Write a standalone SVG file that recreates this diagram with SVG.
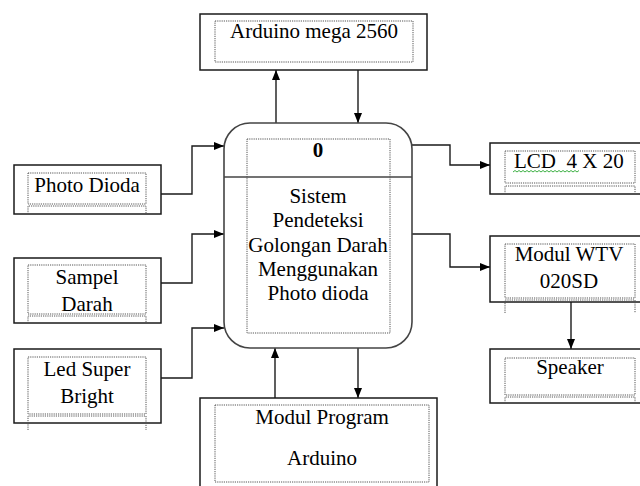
<svg xmlns="http://www.w3.org/2000/svg" width="640" height="486" viewBox="0 0 640 486">
<defs>
<style>
.box{fill:#fff;stroke:#1a1a1a;stroke-width:1.5}
.dot{fill:none;stroke:#555;stroke-width:1;stroke-dasharray:1.2 1}
.proc{fill:#fff;stroke:#444;stroke-width:1.6}
.ln{fill:none;stroke:#1a1a1a;stroke-width:1.4}
.t{font-family:"Liberation Serif","Times New Roman",serif;font-size:21px;fill:#000;text-anchor:middle}
.ts{font-family:"Liberation Serif","Times New Roman",serif;font-size:21px;fill:#000;text-anchor:start;white-space:pre}
</style>
<marker id="ah" markerWidth="10" markerHeight="8" refX="10" refY="4" orient="auto" markerUnits="userSpaceOnUse">
<path d="M0,0 L10,4 L0,8 Z" fill="#000"/>
</marker>
</defs>
<rect width="640" height="486" fill="#fff"/>

<g id="connectors">
<path class="ln" d="M276,123 V70" marker-end="url(#ah)"/>
<path class="ln" d="M358,70 V123" marker-end="url(#ah)"/>
<path class="ln" d="M161,194 H192 V146 H224" marker-end="url(#ah)"/>
<path class="ln" d="M161,283 H192 V234 H224" marker-end="url(#ah)"/>
<path class="ln" d="M161,378 H192 V328 H224" marker-end="url(#ah)"/>
<path class="ln" d="M412,145 H450 V165 H490" marker-end="url(#ah)"/>
<path class="ln" d="M412,234 H450 V267 H490" marker-end="url(#ah)"/>
<path class="ln" d="M571,302 V349" marker-end="url(#ah)"/>
<path class="ln" d="M275,398 V348" marker-end="url(#ah)"/>
<path class="ln" d="M358,348 V398" marker-end="url(#ah)"/>
</g>

<g id="arduino-mega">
<rect class="box" x="200" y="14" width="227" height="56"/>
<rect class="dot" x="215" y="21" width="198" height="41"/>
<text class="t" x="314" y="38">Arduino mega 2560</text>
</g>

<g id="process">
<rect class="proc" x="224" y="123" width="188" height="225" rx="26" ry="26"/>
<line x1="224" y1="177" x2="412" y2="177" stroke="#444" stroke-width="1.5"/>
<rect class="dot" x="247" y="139" width="143" height="194"/>
<text class="t" x="318" y="157" font-weight="bold">0</text>
<text class="t" x="318" y="203">Sistem</text>
<text class="t" x="318" y="227">Pendeteksi</text>
<text class="t" x="318" y="252">Golongan Darah</text>
<text class="t" x="318" y="276">Menggunakan</text>
<text class="t" x="318" y="300">Photo dioda</text>
</g>

<g id="photo-dioda">
<rect class="box" x="14" y="165" width="147" height="49"/>
<rect class="dot" x="28" y="173" width="118" height="31"/>
<path class="dot" d="M28,214 V206 H146 V214"/>
<text class="t" x="87" y="192">Photo Dioda</text>
</g>

<g id="sampel-darah">
<rect class="box" x="14" y="258" width="147" height="65"/>
<rect class="dot" x="28" y="265" width="118" height="49"/>
<path class="dot" d="M28,323 V316 H146 V323"/>
<text class="t" x="87" y="284">Sampel</text>
<text class="t" x="87" y="311">Darah</text>
</g>

<g id="led-super-bright">
<rect class="box" x="14" y="349" width="147" height="74"/>
<rect class="dot" x="28" y="357" width="118" height="57"/>
<path class="dot" d="M28,430 V416 H146 V430"/>
<text class="t" x="87" y="376">Led Super</text>
<text class="t" x="87" y="403">Bright</text>
</g>

<g id="modul-program">
<rect class="box" x="200" y="398" width="237" height="95"/>
<rect class="dot" x="215" y="405" width="214" height="77"/>
<text class="t" x="322" y="424">Modul Program</text>
<text class="t" x="322" y="465">Arduino</text>
</g>

<g id="lcd">
<rect class="box" x="490" y="143" width="160" height="51"/>
<rect class="dot" x="505" y="151" width="130" height="32"/>
<path class="dot" d="M505,194 V186 H635 V194"/>
<text class="ts" x="514" y="168" xml:space="preserve">LCD  4 X 20</text>
<path d="M513,172 l2,-1.5 l2,1.5 l2,-1.5 l2,1.5 l2,-1.5 l2,1.5 l2,-1.5 l2,1.5 l2,-1.5 l2,1.5 l2,-1.5 l2,1.5 l2,-1.5 l2,1.5 l2,-1.5 l2,1.5 l2,-1.5 l2,1.5 l2,-1.5 l2,1.5 l2,-1.5 l2,1.5 l2,-1.5 l2,1.5 l2,-1.5 l2,1.5 l2,-1.5 l2,1.5 l2,-1.5 l2,1.5 l2,-1.5 l2,1.5 l2,-1.5" fill="none" stroke="#3cb043" stroke-width="1"/>
</g>

<g id="modul-wtv">
<rect class="box" x="490" y="236" width="160" height="66"/>
<rect class="dot" x="505" y="244" width="130" height="54"/>
<path class="dot" d="M505,313 V300 H635 V313"/>
<text class="t" x="569" y="261">Modul WTV</text>
<text class="t" x="569" y="288">020SD</text>
</g>

<g id="speaker">
<rect class="box" x="490" y="349" width="160" height="54"/>
<rect class="dot" x="505" y="358" width="130" height="37"/>
<path class="dot" d="M505,403 V397 H635 V403"/>
<text class="t" x="570" y="374">Speaker</text>
</g>
</svg>
